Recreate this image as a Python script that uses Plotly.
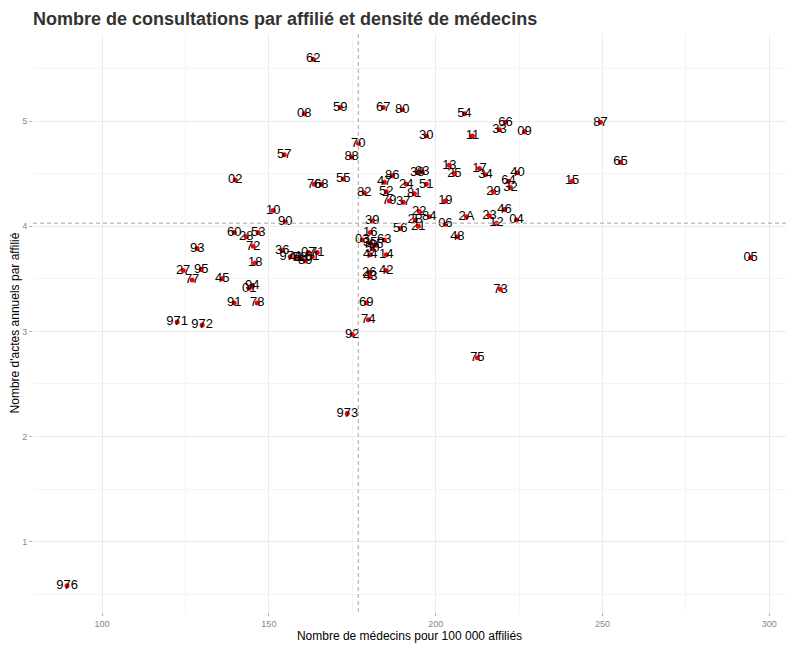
import plotly.graph_objects as go

# departements, densite de medecins (x) et actes par affilie (y)
depts = ["62", "59", "67", "80", "08", "54", "87", "66", "33", "09",
         "30", "11", "70", "57", "65", "88", "02", "15", "76", "68",
         "55", "13", "25", "17", "34", "40", "64", "32", "29", "46",
         "04", "12", "23", "2A", "48", "06", "19", "38", "83", "86",
         "47", "24", "51", "52", "81", "82", "79", "37", "22", "2B",
         "84", "21", "56", "39", "16", "03", "35", "85", "50", "63",
         "44", "14", "26", "43", "42", "69", "74", "92", "973", "75",
         "73", "05", "976", "10", "90", "60", "28", "53", "72", "93",
         "27", "95", "77", "45", "18", "94", "01", "91", "78", "971",
         "972", "36", "974", "41", "58", "89", "07", "71", "61"]
densite = [163.3, 171.4, 184.3, 190.0, 160.6, 208.6, 249.4, 220.9, 219.1, 226.6,
           197.2, 211.0, 176.8, 154.6, 255.4, 174.8, 139.9, 240.9, 163.6, 165.7,
           172.3, 204.1, 205.6, 213.1, 214.9, 224.5, 221.8, 222.4, 217.3, 220.6,
           224.2, 218.2, 216.1, 209.2, 206.5, 202.9, 202.9, 194.5, 196.0, 187.0,
           184.6, 191.2, 197.2, 185.2, 193.6, 178.6, 186.1, 190.3, 195.1, 193.9,
           198.1, 194.8, 189.4, 181.0, 180.4, 178.0, 180.4, 182.2, 181.0, 184.6,
           180.4, 185.2, 180.1, 180.4, 185.2, 179.2, 179.8, 175.0, 173.5, 212.5,
           219.4, 294.4, 89.5, 151.3, 154.9, 139.6, 143.2, 146.8, 145.3, 128.5,
           124.3, 129.7, 127.0, 136.0, 145.9, 145.0, 144.1, 139.6, 146.5, 122.5,
           130.0, 154.0, 156.4, 158.2, 159.4, 160.9, 161.8, 164.5, 163.0]
actes = [5.59, 5.13, 5.13, 5.11, 5.07, 5.07, 4.99, 4.99, 4.92, 4.90,
         4.86, 4.86, 4.79, 4.68, 4.61, 4.66, 4.44, 4.43, 4.40, 4.40,
         4.45, 4.58, 4.50, 4.55, 4.49, 4.51, 4.43, 4.37, 4.33, 4.16,
         4.06, 4.03, 4.10, 4.09, 3.90, 4.02, 4.24, 4.51, 4.52, 4.48,
         4.42, 4.40, 4.40, 4.33, 4.31, 4.32, 4.24, 4.23, 4.14, 4.06,
         4.09, 4.00, 3.98, 4.05, 3.94, 3.87, 3.84, 3.82, 3.79, 3.87,
         3.73, 3.73, 3.56, 3.52, 3.58, 3.27, 3.11, 2.97, 2.22, 2.75,
         3.40, 3.70, 0.58, 4.15, 4.04, 3.94, 3.90, 3.94, 3.81, 3.79,
         3.58, 3.59, 3.49, 3.50, 3.65, 3.43, 3.41, 3.27, 3.27, 3.09,
         3.06, 3.77, 3.71, 3.70, 3.70, 3.67, 3.75, 3.75, 3.71]

# moyennes nationales (lignes pointillees)
moy_densite = 176.8
moy_actes = 4.03

x_ticks = [100, 150, 200, 250, 300]
y_ticks = [1, 2, 3, 4, 5]

fig = go.Figure()
fig.add_trace(go.Scatter(x=densite, y=actes, mode="markers+text", text=depts,
                         textposition="middle center",
                         marker=dict(color="red", size=5),
                         textfont=dict(family="Liberation Sans, Arial", size=13, color="black"),
                         showlegend=False, hoverinfo="text+x+y"))
fig.add_vline(x=moy_densite, line=dict(color="#a6a6a6", width=1, dash="4px,3px"))
fig.add_hline(y=moy_actes, line=dict(color="#a6a6a6", width=1, dash="4px,3px"))

grid = dict(showgrid=True, gridcolor="#ebebeb", gridwidth=1, zeroline=False,
            showline=False, ticks="outside", ticklen=3, tickcolor="#b3b3b3",
            tickfont=dict(family="Liberation Sans, Arial", size=9, color="#888888"),
            minor=dict(showgrid=True, gridcolor="#f4f4f4", gridwidth=1))

# la page ajoute 8 px de marge autour de la figure
fig.update_layout(
    width=792, height=640,
    paper_bgcolor="white", plot_bgcolor="white",
    margin=dict(l=25, r=14, t=26, b=36),
    font=dict(family="Liberation Sans, Arial"),
    title=dict(text="<b>Nombre de consultations par affilié et densité de médecins</b>",
               x=0.0316, xanchor="left", y=0.983, yanchor="middle",
               font=dict(size=18, color="#333333")),
    xaxis=dict(range=[79.3, 305], tickvals=x_ticks, automargin=False,
               title=dict(text="Nombre de médecins pour 100 000 affiliés",
                          font=dict(size=12, color="black"), standoff=2),
               **grid),
    yaxis=dict(range=[0.33, 5.83], tickvals=y_ticks, automargin=False,
               title=dict(text="Nombre d'actes annuels par affilié",
                          font=dict(size=12, color="black"), standoff=2),
               **grid),
)
fig.update_xaxes(minor=dict(tick0=75, dtick=50))
fig.update_yaxes(minor=dict(tick0=0.5, dtick=1))

fig.write_html("out.html")
